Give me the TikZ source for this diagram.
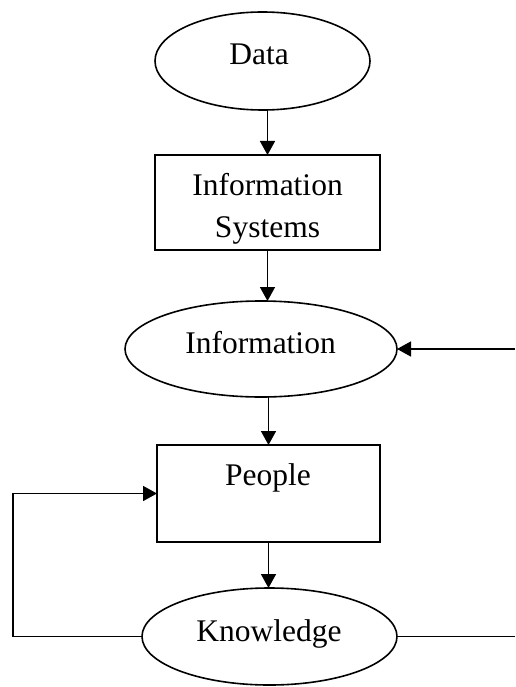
\documentclass[tikz,border=0pt]{standalone}
\usepackage{fontspec}
\setmainfont{Liberation Serif}
\usetikzlibrary{arrows.meta,shapes.geometric}
\begin{document}
\begin{tikzpicture}[x=1pt,y=-1pt,
  shp/.style={draw=black, line width=1.6pt, inner sep=0pt, outer sep=0pt},
  oval/.style={shp, ellipse},
  rbox/.style={shp, rectangle},
  lbl/.style={inner sep=0pt, anchor=base, align=center,
              font=\fontsize{31.5}{42}\selectfont},
  conn/.style={line width=1.6pt, draw=black},
  arr/.style={conn, -{Triangle[length=14pt,width=15pt]}}]
\useasboundingbox (0,0) rectangle (515,687);

% shapes
\node[oval, minimum width=215pt, minimum height=98pt] (data) at (262.5,61) {};
\node[rbox, minimum width=225pt, minimum height=95pt] (is) at (267.5,202.5) {};
\node[oval, minimum width=272pt, minimum height=96pt] (info) at (261,349) {};
\node[rbox, minimum width=223pt, minimum height=97pt] (people) at (268.5,493.5) {};
\node[oval, minimum width=255pt, minimum height=97pt] (know) at (269.5,636.5) {};

% texts
\node[lbl] (tdata) at (259,65) {Data};
\node[lbl] (tis) at (267.5,237) {Information\\Systems};
\node[lbl] (tinfo) at (260.5,353) {Information};
\node[lbl] (tpeople) at (268,485) {People};
\node[lbl] (tknow) at (269,641.7) {Knowledge};

% free ends
\coordinate (rin) at (515,349);
\coordinate (rout) at (515,636.5);
\coordinate (lcorner) at (13,636.5);

% connectors
\draw[arr] (data.south -| is.north) -- (is.north);
\draw[arr] (is.south) -- (is.south |- info.north);
\draw[arr] (people.north |- info.south) -- (people.north);
\draw[arr] (people.south) -- (people.south |- know.north);
\draw[arr] (rin) -- (info.east);
\draw[conn] (know.east) -- (rout);
\draw[arr] (know.west) -- (lcorner) |- (people.west);
\end{tikzpicture}
\end{document}
